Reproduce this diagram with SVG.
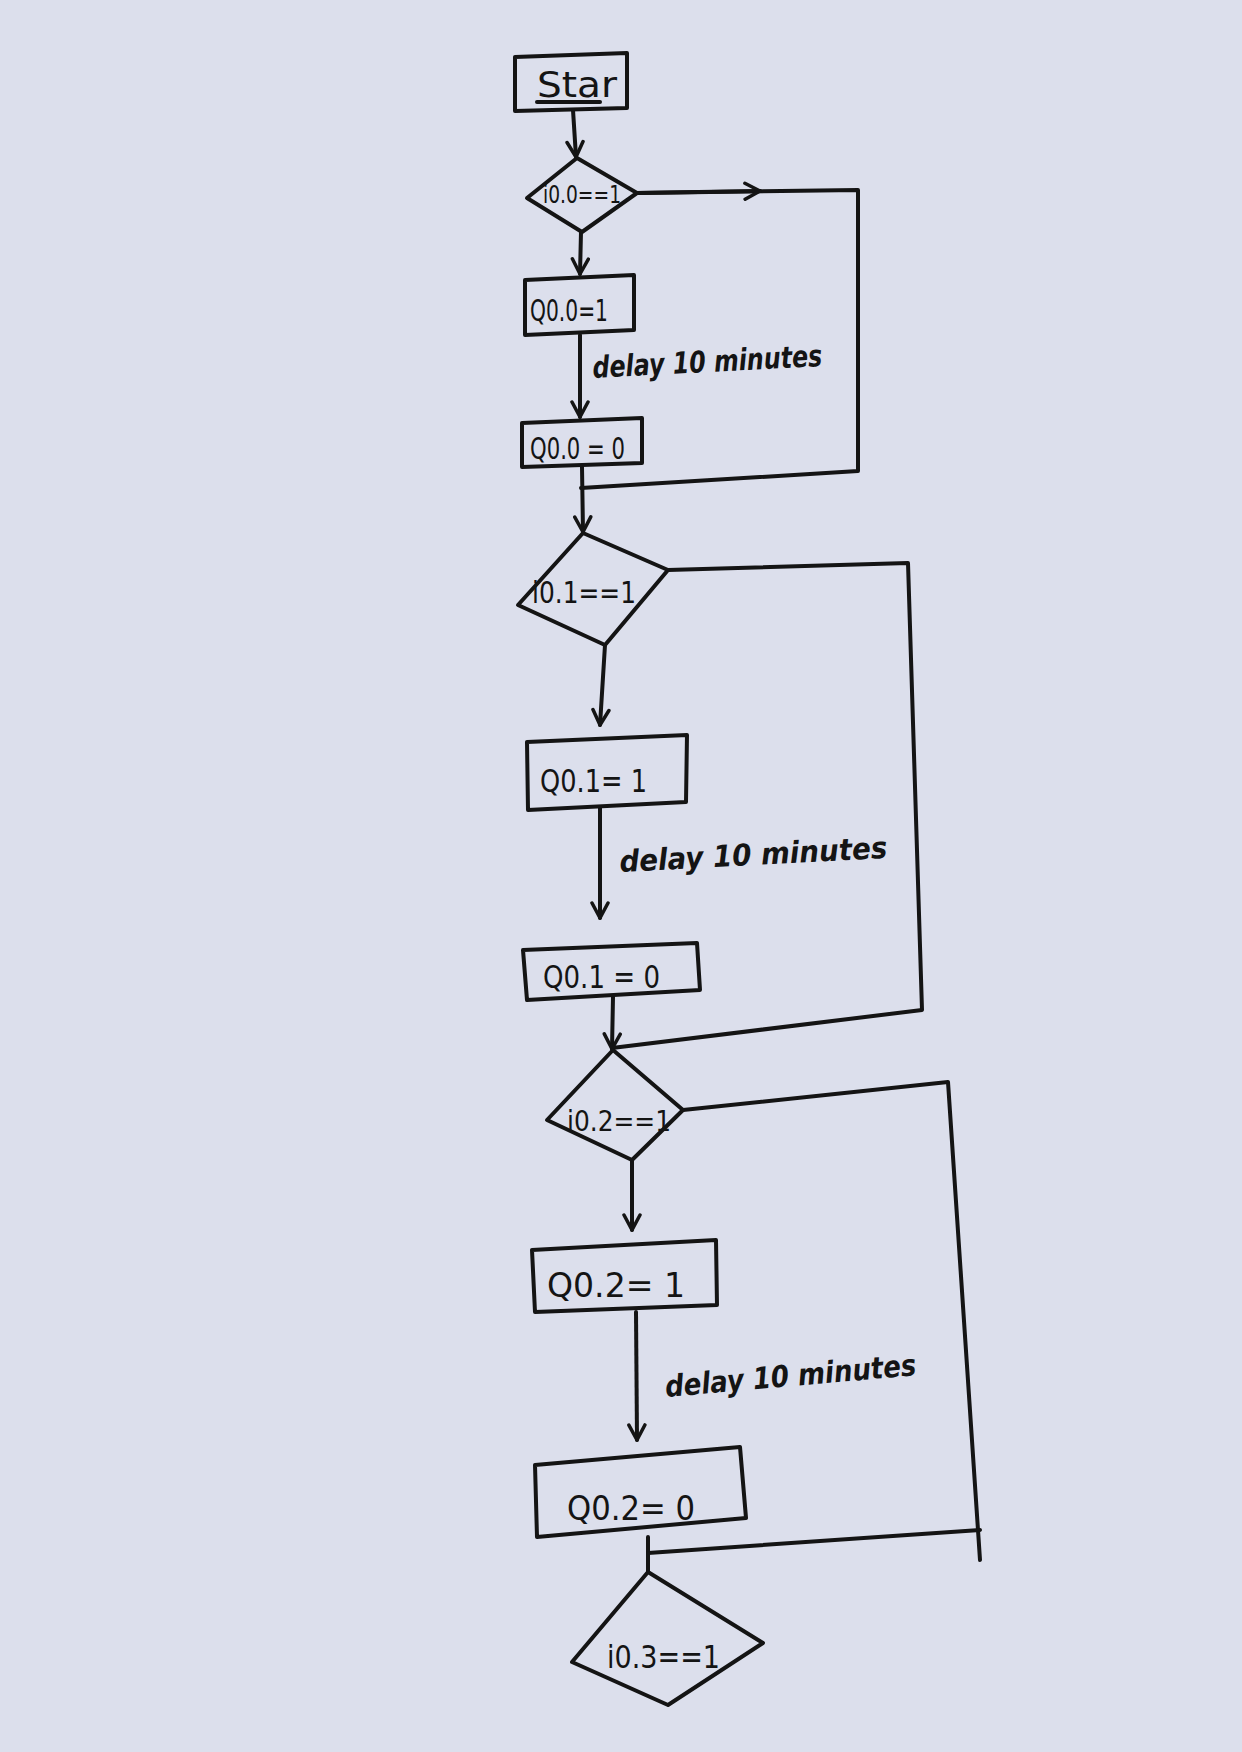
<svg xmlns="http://www.w3.org/2000/svg" width="1242" height="1752" viewBox="0 0 1242 1752">
<defs>
<marker id="ah" viewBox="0 0 20 20" refX="18" refY="10" markerWidth="20" markerHeight="20" markerUnits="userSpaceOnUse" orient="auto">
<path d="M3,2 L18,10 L3,18" fill="none" stroke="#141414" stroke-width="3.5" stroke-linecap="round" stroke-linejoin="round"/>
</marker>
</defs>
<style>
.shape{fill:none;stroke:#141414;stroke-width:4;stroke-linejoin:round;stroke-linecap:round}
.line{fill:none;stroke:#141414;stroke-width:4;stroke-linecap:round;stroke-linejoin:round}
.lbl{font-family:"DejaVu Sans","Liberation Sans",sans-serif;fill:#141414}
.dl{font-family:"DejaVu Sans","Liberation Sans",sans-serif;font-style:italic;font-weight:bold;fill:#141414;font-size:30px}
</style>
<rect x="0" y="0" width="1242" height="1752" fill="#dcdfec"/>

<g id="connectors">
<line class="line" x1="573" y1="110" x2="576" y2="157" marker-end="url(#ah)"/>
<polyline class="line" points="637,193 858,190 858,471 581,488"/>
<line class="line" x1="637" y1="193" x2="760" y2="191" marker-end="url(#ah)"/>
<line class="line" x1="581" y1="232" x2="580" y2="274" marker-end="url(#ah)"/>
<line class="line" x1="580" y1="335" x2="580" y2="417" marker-end="url(#ah)"/>
<line class="line" x1="582" y1="467" x2="583" y2="532" marker-end="url(#ah)"/>
<polyline class="line" points="668,570 908,563 922,1010 612,1048"/>
<line class="line" x1="605" y1="645" x2="600" y2="725" marker-end="url(#ah)"/>
<line class="line" x1="600" y1="808" x2="600" y2="918" marker-end="url(#ah)"/>
<line class="line" x1="613" y1="997" x2="612" y2="1049" marker-end="url(#ah)"/>
<polyline class="line" points="683,1110 948,1082 980,1560"/>
<polyline class="line" points="648,1537 648,1553 980,1530"/>
<line class="line" x1="632" y1="1160" x2="632" y2="1230" marker-end="url(#ah)"/>
<line class="line" x1="636" y1="1312" x2="637" y2="1440" marker-end="url(#ah)"/>
<line class="line" x1="648" y1="1553" x2="648" y2="1572"/>
<text class="dl" x="593" y="378" textLength="230" lengthAdjust="spacingAndGlyphs" transform="rotate(-3 593 378)">delay 10 minutes</text>
<text class="dl" x="620" y="872" textLength="268" lengthAdjust="spacingAndGlyphs" transform="rotate(-3 620 872)">delay 10 minutes</text>
<text class="dl" x="666" y="1397" textLength="252" lengthAdjust="spacingAndGlyphs" transform="rotate(-5 666 1397)">delay 10 minutes</text>
</g>

<g id="start">
<path class="shape" d="M515,57 L627,53 L627,108 L515,111 Z"/>
<text class="lbl" x="537" y="97" font-size="36" textLength="80" lengthAdjust="spacingAndGlyphs">Star</text>
<line class="line" x1="537" y1="102" x2="600" y2="102" stroke-width="3"/>
</g>

<g id="d_i00">
<path class="shape" d="M577,158 L637,193 L582,232 L527,198 Z"/>
<text class="lbl" x="582" y="203" font-size="24" text-anchor="middle" textLength="78" lengthAdjust="spacingAndGlyphs">i0.0==1</text>
</g>

<g id="b_q00_1">
<path class="shape" d="M525,280 L634,275 L634,330 L525,335 Z"/>
<text class="lbl" x="530" y="321" font-size="30" textLength="78" lengthAdjust="spacingAndGlyphs">Q0.0=1</text>
</g>

<g id="b_q00_0">
<path class="shape" d="M522,423 L642,418 L642,463 L522,467 Z"/>
<text class="lbl" x="530" y="459" font-size="30" textLength="95" lengthAdjust="spacingAndGlyphs">Q0.0 = 0</text>
</g>

<g id="d_i01">
<path class="shape" d="M583,533 L668,570 L605,645 L518,605 Z"/>
<text class="lbl" x="584" y="603" font-size="30" text-anchor="middle" textLength="104" lengthAdjust="spacingAndGlyphs">i0.1==1</text>
</g>

<g id="b_q01_1">
<path class="shape" d="M527,742 L687,735 L686,802 L528,810 Z"/>
<text class="lbl" x="540" y="792" font-size="32" textLength="107" lengthAdjust="spacingAndGlyphs">Q0.1= 1</text>
</g>

<g id="b_q01_0">
<path class="shape" d="M523,950 L697,943 L700,990 L527,1000 Z"/>
<text class="lbl" x="543" y="988" font-size="32" textLength="117" lengthAdjust="spacingAndGlyphs">Q0.1 = 0</text>
</g>

<g id="d_i02">
<path class="shape" d="M613,1050 L683,1110 L632,1160 L547,1120 Z"/>
<text class="lbl" x="619" y="1131" font-size="28" text-anchor="middle" textLength="104" lengthAdjust="spacingAndGlyphs">i0.2==1</text>
</g>

<g id="b_q02_1">
<path class="shape" d="M532,1250 L716,1240 L717,1305 L535,1312 Z"/>
<text class="lbl" x="547" y="1297" font-size="34" textLength="138" lengthAdjust="spacingAndGlyphs">Q0.2= 1</text>
</g>

<g id="b_q02_0">
<path class="shape" d="M535,1465 L740,1447 L746,1518 L537,1537 Z"/>
<text class="lbl" x="567" y="1520" font-size="34" textLength="128" lengthAdjust="spacingAndGlyphs">Q0.2= 0</text>
</g>

<g id="d_i03">
<path class="shape" d="M648,1572 L763,1643 L668,1705 L572,1662 Z"/>
<text class="lbl" x="607" y="1668" font-size="32" textLength="113" lengthAdjust="spacingAndGlyphs">i0.3==1</text>
</g>
</svg>
